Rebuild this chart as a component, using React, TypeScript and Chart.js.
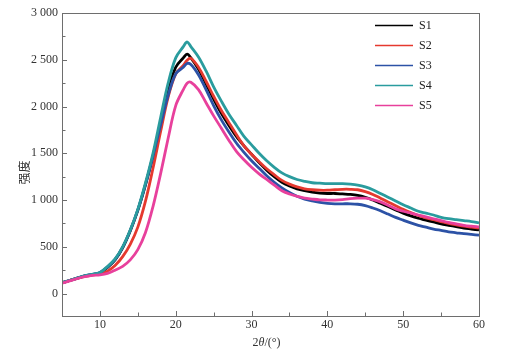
import React, { useEffect, useRef } from "react";
import { Chart, registerables } from "chart.js";
Chart.register(...registerables);

const angles = [5,6,7,8,9,10,11,12,13,14,15,16,17,18,19,20,21,21.5,22,23,24,25,26,27,28,29,30,31,32,33,34,35,36,37,38,39,40,41,42,43,44,45,46,47,48,49,50,51,52,53,54,55,56,57,58,59,60];
const s1 = [115,140,165,188,203,220,280,360,490,670, 890,1160,1470,1820,2170,2420,2520,2560,2520,2400,2240, 2080,1930,1800,1680,1580,1490,1400,1320,1250,1190, 1150,1120,1100,1085,1075,1070,1070,1065,1060,1050, 1030,1000,965,930,895,860,830,805,785,765, 745,730,715,700,690,680];
const s2 = [115,138,162,183,198,208,240,300,395,527, 710,985,1340,1730,2100,2350,2440,2495,2515,2420,2270, 2110,1960,1830,1700,1580,1490,1410,1335,1270,1210, 1170,1140,1120,1110,1105,1105,1110,1115,1115,1110, 1090,1060,1020,980,940,900,865,835,810,790, 770,750,735,720,710,700];
const s3 = [115,140,165,190,205,225,285,365,495,675, 895,1165,1470,1800,2120,2350,2420,2460,2450,2340,2180, 2010,1860,1730,1610,1510,1420,1340,1260,1190,1130, 1080,1040,1010,990,975,965,960,960,960,955, 940,915,885,850,815,785,755,730,710,690, 675,660,650,640,632,625];
const s4 = [115,140,165,190,205,225,290,370,500,680, 900,1180,1500,1880,2250,2520,2640,2690,2640,2530,2380, 2210,2060,1920,1800,1680,1590,1500,1420,1350,1290, 1250,1220,1200,1185,1180,1175,1175,1175,1170,1160, 1140,1110,1070,1030,990,950,915,880,860,840, 815,800,790,780,770,755];
const s5 = [110,135,160,180,195,200,215,250,290,360, 470,650,930,1280,1660,2010,2180,2250,2260,2180,2040, 1900,1770,1640,1520,1430,1350,1280,1220,1160,1100, 1065,1040,1020,1010,1002,1000,1000,1005,1015,1020, 1020,1005,980,945,905,880,860,840,820,800, 780,760,745,730,720,712];

const seriesNames = ["S1", "S2", "S3", "S4", "S5"];
const seriesValues = [s1, s2, s3, s4, s5];
const seriesColors = ["#000000", "#e5392f", "#2c52a6", "#2a9c9e", "#e8409c"];

const xMin = 5, xMax = 60, yMin = -240, yMax = 3000;
const xTickValues = [10, 20, 30, 40, 50, 60];
const yTickValues = [0, 500, 1000, 1500, 2000, 2500, 3000];

const SERIF = "'Liberation Serif', 'Times New Roman', serif";
const AXIS_COLOR = "#6e6e6e";

const fmt = (v: number) => {
  const s = String(Math.round(v));
  return s.replace(/\B(?=(\d{3})+(?!\d))/g, " ");
};

const decorPlugin = {
  id: "decor",
  afterDraw(chart: any) {
    const ctx = chart.ctx;
    const { left, right, top, bottom } = chart.chartArea;
    const xs = chart.scales.x;
    const ys = chart.scales.y;
    ctx.save();
    ctx.strokeStyle = AXIS_COLOR;
    ctx.lineWidth = 1;
    ctx.strokeRect(Math.round(left) + 0.5, Math.round(top) + 0.5, Math.round(right - left), Math.round(bottom - top));
    ctx.beginPath();
    for (let v = 10; v < xMax; v += 5) {
      const px = Math.round(xs.getPixelForValue(v)) + 0.5;
      const len = v % 10 === 0 ? 5 : 3.5;
      ctx.moveTo(px, bottom);
      ctx.lineTo(px, bottom - len);
    }
    for (let v = 0; v < yMax; v += 250) {
      const py = Math.round(ys.getPixelForValue(v)) + 0.5;
      const len = v % 500 === 0 ? 5 : 3.5;
      ctx.moveTo(left, py);
      ctx.lineTo(left + len, py);
    }
    ctx.stroke();
    ctx.fillStyle = "#333";
    ctx.font = `12px ${SERIF}`;
    ctx.textAlign = "center";
    ctx.textBaseline = "top";
    xTickValues.forEach((v) => {
      ctx.fillText(String(v), xs.getPixelForValue(v), bottom + 3);
    });
    ctx.textAlign = "right";
    ctx.textBaseline = "middle";
    yTickValues.forEach((v) => {
      ctx.fillText(fmt(v), left - 4, ys.getPixelForValue(v));
    });
    const cx = (left + right) / 2 - 4;
    const ty = bottom + 27;
    ctx.textBaseline = "middle";
    ctx.textAlign = "left";
    const parts: [string, string][] = [["2", `12px ${SERIF}`], ["θ", `italic 12px ${SERIF}`], ["/(°)", `12px ${SERIF}`]];
    let total = 0;
    parts.forEach(([t, f]) => { ctx.font = f; total += ctx.measureText(t).width; });
    let x0 = cx - total / 2;
    parts.forEach(([t, f]) => { ctx.font = f; ctx.fillText(t, x0, ty); x0 += ctx.measureText(t).width; });
    ctx.save();
    ctx.translate(left - 38, (top + bottom) / 2 + 8);
    ctx.rotate(-Math.PI / 2);
    ctx.textAlign = "center";
    ctx.textBaseline = "middle";
    ctx.font = "12px 'Noto Sans CJK SC', sans-serif";
    ctx.fillText("强度", 0, 0);
    ctx.restore();
    const lx0 = right - 104;
    const lx1 = right - 66;
    seriesNames.forEach((name, i) => {
      const ly = top + 12.5 + i * 20;
      ctx.strokeStyle = seriesColors[i];
      ctx.lineWidth = 1.6;
      ctx.beginPath();
      ctx.moveTo(lx0, ly);
      ctx.lineTo(lx1, ly);
      ctx.stroke();
      ctx.fillStyle = "#222";
      ctx.font = `12px ${SERIF}`;
      ctx.textAlign = "left";
      ctx.textBaseline = "middle";
      ctx.fillText(name, lx1 + 6, ly + 0.5);
    });
    ctx.restore();
  },
};

export default function App() {
  const ref = useRef<HTMLCanvasElement | null>(null);
  useEffect(() => {
    if (!ref.current) return;
    const datasets = seriesNames.map((name, i) => ({
      label: name,
      data: angles.map((a, j) => ({ x: a, y: seriesValues[i][j] })),
      borderColor: seriesColors[i],
      backgroundColor: seriesColors[i],
      borderWidth: 2.8,
      pointRadius: 0,
      tension: 0.35,
      order: seriesNames.length - i,
    }));
    const chart = new Chart(ref.current, {
      type: "line",
      data: { datasets },
      options: {
        animation: false,
        responsive: false,
        maintainAspectRatio: false,
        layout: { padding: { top: 13, right: 38, left: 0, bottom: 0 } },
        plugins: { legend: { display: false }, tooltip: { enabled: false } },
        scales: {
          x: {
            type: "linear",
            min: xMin,
            max: xMax,
            grid: { display: false, drawTicks: false },
            border: { display: false },
            ticks: { display: false, stepSize: 5 },
            afterFit: (s: any) => { s.height = 38; },
          },
          y: {
            type: "linear",
            min: yMin,
            max: yMax,
            grid: { display: false, drawTicks: false },
            border: { display: false },
            ticks: { display: false, stepSize: 250 },
            afterFit: (s: any) => { s.width = 62; },
          },
        },
      },
      plugins: [decorPlugin],
    });
    return () => chart.destroy();
  }, []);
  return (
    <div style={{ position: "fixed", left: 0, top: 0, width: 517, height: 354, background: "#fff" }}>
      <canvas ref={ref} width={517} height={354} style={{ width: 517, height: 354 }} />
    </div>
  );
}
